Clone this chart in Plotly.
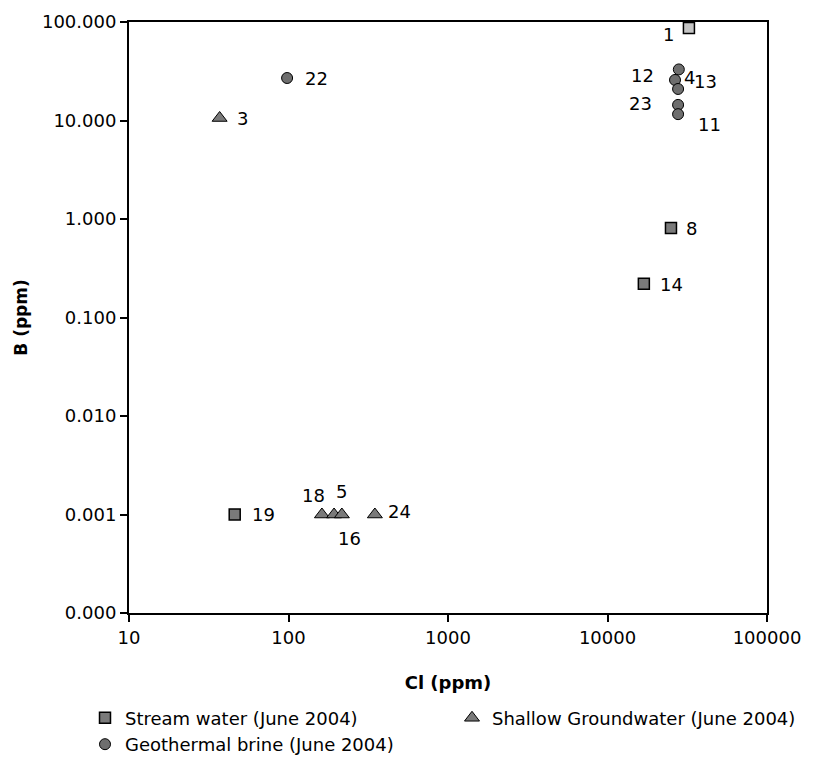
import math
import plotly.graph_objects as go

# Data (Cl ppm, B ppm)
stream_ids = ["19", "14", "8", "1"]
stream_cl = [46, 16900, 25000, 32400]
stream_b = [0.001, 0.22, 0.81, 87.0]

shallow_ids = ["3", "18", "5", "16", "24"]
shallow_cl = [37, 162, 193, 216, 348]
shallow_b = [10.6, 0.001, 0.001, 0.001, 0.001]

brine_ids = ["22", "4", "12", "13", "23", "11"]
brine_cl = [98, 28000, 26500, 27700, 27700, 27700]
brine_b = [27.0, 33.0, 25.8, 20.9, 14.4, 11.6]

x_tickvals = [10, 100, 1000, 10000, 100000]
x_ticktext = ["10", "100", "1000", "10000", "100000"]
y_tickvals = [0.0001, 0.001, 0.01, 0.1, 1, 10, 100]
y_ticktext = ["0.000", "0.001", "0.010", "0.100", "1.000", "10.000", "100.000"]

# label offsets in pixels (dx right, dy down)
label_offsets = {
    "1": (-20, 7), "8": (21, 0), "14": (28, 1), "19": (29, 0),
    "3": (23, 0), "18": (-8, -19), "5": (7, -23), "16": (8, 24), "24": (25, -3),
    "22": (29, 0), "4": (11, 8), "12": (-33, -4), "13": (27, -7), "23": (-38, -1), "11": (31, 10),
}

FONT = "DejaVu Sans"
FS = 18
fig = go.Figure()

stream_colors = ["#7a7a7a" if i != "1" else "#c4c4c4" for i in stream_ids]
fig.add_trace(go.Scatter(
    x=stream_cl, y=stream_b, mode="markers", name="Stream water (June 2004)",
    marker=dict(symbol="square", size=11, color=stream_colors, line=dict(color="black", width=1.5)),
))
fig.add_trace(go.Scatter(
    x=shallow_cl, y=shallow_b, mode="markers", name="Shallow Groundwater (June 2004)",
    marker=dict(symbol="triangle-up", size=13, color="#7a7a7a", line=dict(color="black", width=1)),
))
fig.add_trace(go.Scatter(
    x=brine_cl, y=brine_b, mode="markers", name="Geothermal brine (June 2004)",
    marker=dict(symbol="circle", size=11, color="#6e6e6e", line=dict(color="black", width=1)),
))

for ids, xs, ys in [(stream_ids, stream_cl, stream_b), (shallow_ids, shallow_cl, shallow_b), (brine_ids, brine_cl, brine_b)]:
    for i, xv, yv in zip(ids, xs, ys):
        dx, dy = label_offsets[i]
        fig.add_annotation(x=math.log10(xv), y=math.log10(yv), xref="x", yref="y", text=i,
                           showarrow=False, xshift=dx, yshift=-dy,
                           font=dict(family=FONT, size=FS, color="black"))

fig.update_layout(
    width=811, height=775,
    margin=dict(l=121, r=52, t=14, b=170),
    paper_bgcolor="white", plot_bgcolor="white",
    font=dict(family=FONT, size=FS, color="black"),
    showlegend=True,
    legend=dict(orientation="h", x=-0.066, y=-0.1465,
                xanchor="left", yanchor="top", entrywidth=322, itemwidth=30,
                font=dict(family=FONT, size=FS), tracegroupgap=0),
)
fig.update_xaxes(type="log", range=[1, 5], tickvals=x_tickvals, ticktext=x_ticktext,
                 showgrid=False, zeroline=False, showline=True, linecolor="black", linewidth=2,
                 mirror=True, ticks="outside", ticklen=7, tickcolor="black", tickwidth=1.5,
                 automargin=False,
                 title=dict(text="<b>Cl (ppm)</b>", font=dict(family=FONT, size=FS), standoff=30),
                 tickfont=dict(family=FONT, size=FS))
fig.update_yaxes(type="log", range=[-4, 2], tickvals=y_tickvals, ticktext=y_ticktext,
                 showgrid=False, zeroline=False, showline=True, linecolor="black", linewidth=2,
                 mirror=True, ticks="outside", ticklen=7, tickcolor="black", tickwidth=1.5,
                 automargin=False,
                 title=dict(text="<b>B (ppm)</b>", font=dict(family=FONT, size=17), standoff=10),
                 tickfont=dict(family=FONT, size=FS))

fig.write_html("out.html")
